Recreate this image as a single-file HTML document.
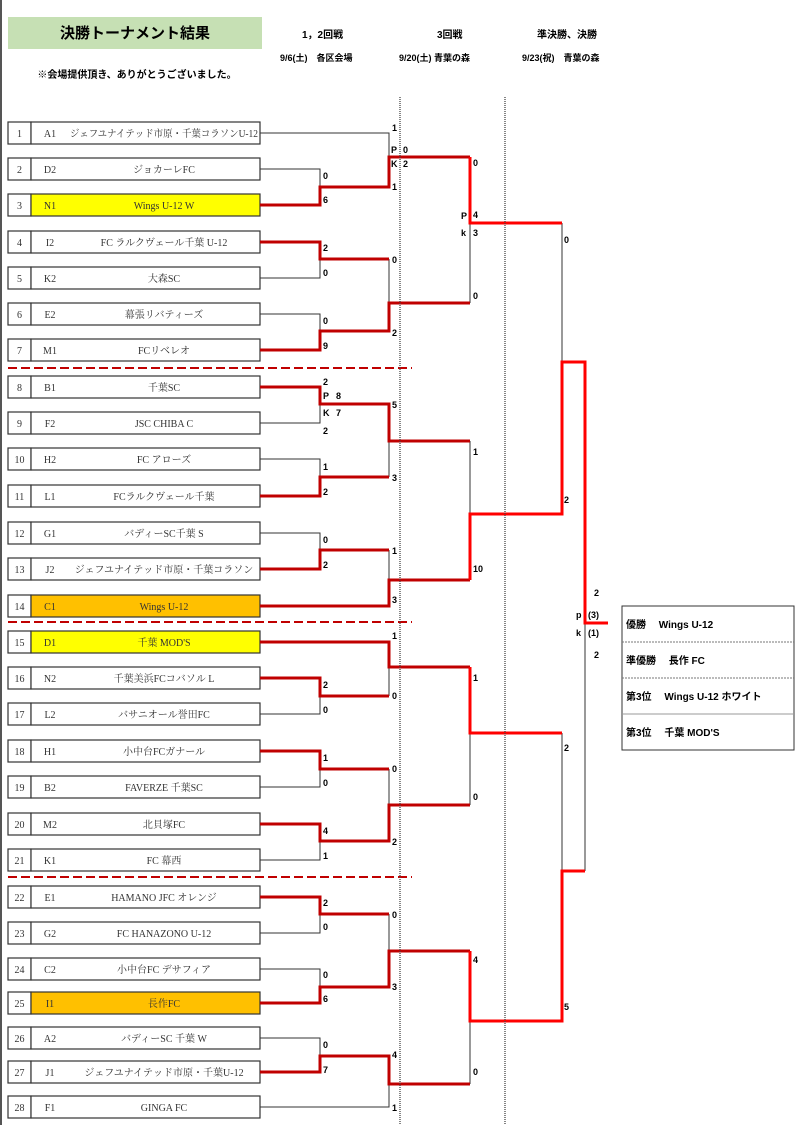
<!DOCTYPE html>
<html><head><meta charset="utf-8"><style>
html,body{margin:0;padding:0;background:#fff;}
body{width:800px;height:1125px;position:relative;overflow:hidden;font-family:"Liberation Sans","Noto Sans CJK JP",sans-serif;}
svg{position:absolute;left:0;top:0;}
.b{font-family:"Liberation Sans","Noto Sans CJK JP",sans-serif;font-weight:bold;fill:#000;}
.s{font-size:9px;font-weight:bold;font-family:"Liberation Sans",sans-serif;fill:#000;}
.t{font-family:"Liberation Serif","Noto Serif CJK SC",serif;font-size:10px;fill:#333;}
</style></head><body>
<svg width="800" height="1125" viewBox="0 0 800 1125" xmlns="http://www.w3.org/2000/svg">
<line x1="1" y1="0" x2="1" y2="1125" stroke="#555" stroke-width="2"/>
<rect x="8" y="17" width="254" height="32" fill="#c6e0b4"/>
<text class="b" x="135" y="38" font-size="15" text-anchor="middle">決勝トーナメント結果</text>
<text class="b" x="137" y="78" font-size="10" text-anchor="middle">※会場提供頂き、ありがとうございました。</text>
<text class="b" x="302" y="38" font-size="10">1，2回戦</text>
<text class="b" x="437" y="38" font-size="10">3回戦</text>
<text class="b" x="537" y="38" font-size="10">準決勝、決勝</text>
<text class="b" x="280" y="61" font-size="9">9/6(土)　各区会場</text>
<text class="b" x="399" y="61" font-size="9">9/20(土) 青葉の森</text>
<text class="b" x="522" y="61" font-size="9">9/23(祝)　青葉の森</text>

<g id="boxes" stroke="#333" stroke-width="1.2">
</g>

<g fill="none" stroke="#333" stroke-width="1">
<path d="M260,133 H389 V187"/><path d="M260,169 H320 V205"/>
<path d="M260,278 H320 V242"/><path d="M260,314 H320 V350"/><path d="M389,259 V303"/>
<path d="M470,157 V303"/><path d="M562,223 V513"/>
<path d="M260,423 H320 V387"/><path d="M260,459 H320 V496"/><path d="M389,441 V477"/>
<path d="M260,533 H320 V569"/><path d="M389,550 V580"/><path d="M470,441 V580"/>
<path d="M389,667 V696"/><path d="M260,714 H320 V678"/><path d="M260,787 H320 V751"/>
<path d="M260,860 H320 V824"/><path d="M389,769 V805"/><path d="M470,667 V805"/>
<path d="M562,733 V1021"/><path d="M585,623 V871"/>
<path d="M260,933 H320 V897"/><path d="M389,914 V987"/><path d="M260,969 H320 V1003"/>
<path d="M260,1038 H320 V1072"/><path d="M260,1107 H389 V1056"/><path d="M470,951 V1084"/>
</g>
<g fill="none" stroke="#c00000" stroke-width="3" stroke-linejoin="miter">
<path d="M260,205 H320 V187 H389 V157 H470"/>
<path d="M260,242 H320 V259 H389"/>
<path d="M260,350 H320 V331 H389 V303 H470"/>
<path d="M260,387 H320 V404 H389 V441 H470"/>
<path d="M260,496 H320 V477 H389"/>
<path d="M260,569 H320 V550 H389"/>
<path d="M260,606 H389 V580 H470"/>
<path d="M260,642 H389 V667 H470"/>
<path d="M260,678 H320 V696 H389"/>
<path d="M260,751 H320 V769 H389"/>
<path d="M260,824 H320 V841 H389 V805 H470"/>
<path d="M260,897 H320 V914 H389"/>
<path d="M260,1003 H320 V987 H389 V951 H470"/>
<path d="M260,1072 H320 V1056 H389 V1084 H470"/>
</g>
<g fill="none" stroke="#ff0000" stroke-width="3">
<path d="M470,157 V223 H562"/>
<path d="M470,580 V514 H562 V362 H585 V623 H608"/>
<path d="M470,667 V733 H562"/>
<path d="M470,951 V1021 H562 V871 H585"/>
</g>
<g stroke="#c00000" stroke-width="2" stroke-dasharray="9,4">
<line x1="8" y1="368" x2="412" y2="368"/><line x1="8" y1="622" x2="412" y2="622"/><line x1="8" y1="877" x2="412" y2="877"/>
</g>
<g stroke="#444" stroke-width="1.3" stroke-dasharray="1,1">
<line x1="400" y1="97" x2="400" y2="1125"/><line x1="505" y1="97" x2="505" y2="1125"/>
</g>

<g class="s">
<text x="392" y="131">1</text><text x="391" y="153">P</text><text x="403" y="153">0</text><text x="391" y="167">K</text><text x="403" y="167">2</text><text x="392" y="190">1</text>
<text x="323" y="179">0</text><text x="323" y="203">6</text><text x="323" y="251">2</text><text x="323" y="276">0</text><text x="392" y="263">0</text>
<text x="323" y="324">0</text><text x="323" y="349">9</text><text x="392" y="336">2</text>
<text x="473" y="166">0</text><text x="461" y="219">P</text><text x="473" y="218">4</text><text x="461" y="236">k</text><text x="473" y="236">3</text><text x="473" y="299">0</text>
<text x="564" y="243">0</text>
<text x="323" y="385">2</text><text x="323" y="399">P</text><text x="336" y="399">8</text><text x="323" y="416">K</text><text x="336" y="416">7</text><text x="323" y="434">2</text><text x="392" y="408">5</text>
<text x="323" y="470">1</text><text x="323" y="495">2</text><text x="392" y="481">3</text>
<text x="323" y="543">0</text><text x="323" y="568">2</text><text x="392" y="554">1</text><text x="392" y="603">3</text>
<text x="473" y="455">1</text><text x="473" y="572">10</text><text x="564" y="503">2</text>
<text x="594" y="596">2</text><text x="576" y="618">p</text><text x="588" y="618">(3)</text><text x="576" y="636">k</text><text x="588" y="636">(1)</text><text x="594" y="658">2</text>
<text x="392" y="639">1</text><text x="323" y="688">2</text><text x="323" y="713">0</text><text x="392" y="699">0</text>
<text x="323" y="761">1</text><text x="323" y="786">0</text><text x="392" y="772">0</text>
<text x="323" y="834">4</text><text x="323" y="859">1</text><text x="392" y="845">2</text>
<text x="473" y="681">1</text><text x="473" y="800">0</text><text x="564" y="751">2</text>
<text x="323" y="906">2</text><text x="323" y="930">0</text><text x="392" y="918">0</text>
<text x="323" y="978">0</text><text x="323" y="1002">6</text><text x="392" y="990">3</text>
<text x="323" y="1048">0</text><text x="323" y="1073">7</text><text x="392" y="1058">4</text><text x="392" y="1111">1</text>
<text x="473" y="963">4</text><text x="473" y="1075">0</text><text x="564" y="1010">5</text>
</g>

<rect x="622" y="606" width="172" height="144" fill="#fff" stroke="#333" stroke-width="1"/>
<line x1="622" y1="642" x2="794" y2="642" stroke="#777" stroke-dasharray="2,1"/>
<line x1="622" y1="678" x2="794" y2="678" stroke="#777" stroke-dasharray="2,1"/>
<line x1="622" y1="714" x2="794" y2="714" stroke="#999"/>
<g class="b" font-size="10">
<text x="626" y="628">優勝　 Wings U-12</text>
<text x="626" y="664">準優勝　 長作 FC</text>
<text x="626" y="700">第3位　 Wings U-12 ホワイト</text>
<text x="626" y="736">第3位　 千葉 MOD'S</text>
</g>
</svg>
<script>
var data=[["A1","ジェフユナイテッド市原・千葉コラソンU-12",133],["D2","ジョカーレFC",169],["N1","Wings U-12 W",205,"#ffff00"],["I2","FC ラルクヴェール千葉 U-12",242],["K2","大森SC",278],["E2","幕張リバティーズ",314],["M1","FCリベレオ",350],["B1","千葉SC",387],["F2","JSC CHIBA C",423],["H2","FC アローズ",459],["L1","FCラルクヴェール千葉",496],["G1","バディーSC千葉 S",533],["J2","ジェフユナイテッド市原・千葉コラソン",569],["C1","Wings U-12",606,"#ffc000"],["D1","千葉 MOD'S",642,"#ffff00"],["N2","千葉美浜FCコバソル L",678],["L2","バサニオール誉田FC",714],["H1","小中台FCガナール",751],["B2","FAVERZE 千葉SC",787],["M2","北貝塚FC",824],["K1","FC 幕西",860],["E1","HAMANO JFC オレンジ",897],["G2","FC HANAZONO U-12",933],["C2","小中台FC デサフィア",969],["I1","長作FC",1003,"#ffc000"],["A2","バディーSC 千葉 W",1038],["J1","ジェフユナイテッド市原・千葉U-12",1072],["F1","GINGA FC",1107]];
var g=document.getElementById("boxes"),h="";
data.forEach(function(d,i){var y=d[2]-11;
h+='<rect x="8" y="'+y+'" width="23" height="22" fill="#fff"/>';
h+='<rect x="31" y="'+y+'" width="229" height="22" fill="'+(d[3]||"#fff")+'"/>';
h+='<text class="t" stroke="none" x="19.5" y="'+(d[2]+4)+'" text-anchor="middle">'+(i+1)+'</text>';
h+='<text class="t" stroke="none" x="50" y="'+(d[2]+4)+'" text-anchor="middle">'+d[0]+'</text>';
var fs=d[1].length>18?' font-size="9"':'';
var tl=d[1].length>20?' textLength="188" lengthAdjust="spacingAndGlyphs"':'';
h+='<text class="t" stroke="none" x="164" y="'+(d[2]+4)+'" text-anchor="middle"'+fs+tl+'>'+d[1]+'</text>';});
g.innerHTML=h;
</script>
</body></html>
